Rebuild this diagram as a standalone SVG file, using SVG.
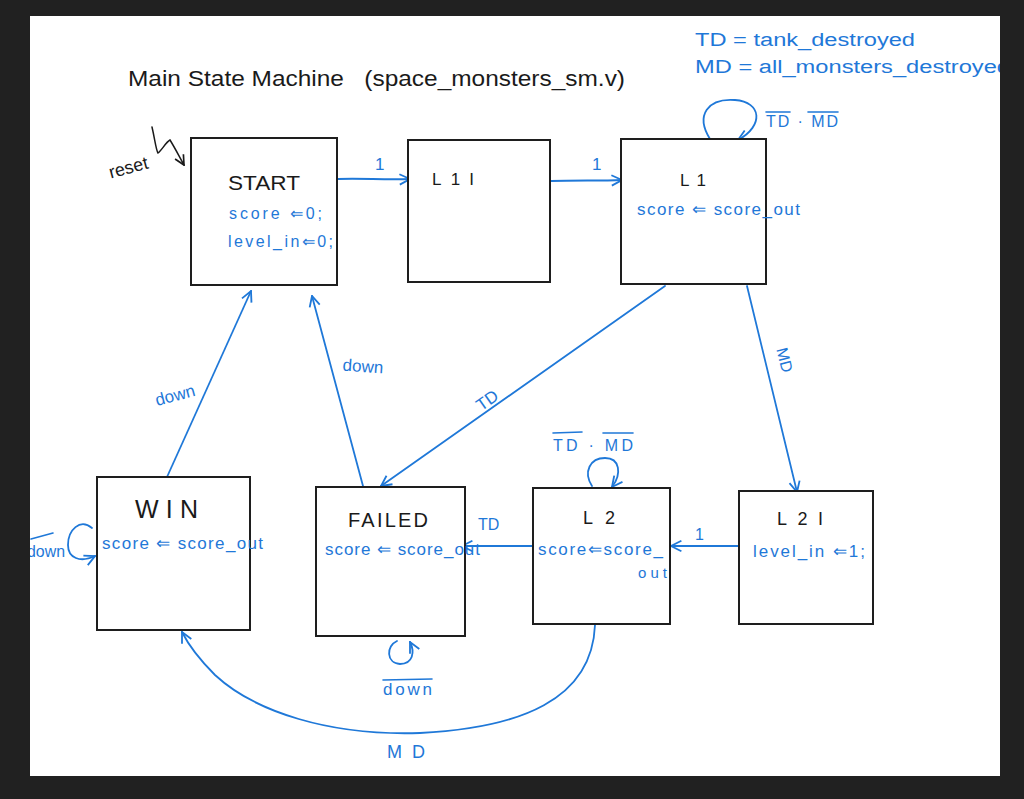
<svg xmlns="http://www.w3.org/2000/svg" width="1024" height="799" viewBox="0 0 1024 799">
<style>
.box{fill:#fff;stroke:#1e1e1e;stroke-width:2}
.k{font-family:"Liberation Sans",Arial,sans-serif;fill:#1a1a1a}
.b{font-family:"Liberation Sans",Arial,sans-serif;fill:#1f78d8}
.c{fill:none;stroke:#1f78d8;stroke-width:1.8;stroke-linecap:round}
.ck{fill:none;stroke:#1a1a1a;stroke-width:1.5;stroke-linecap:round}
.ol{stroke:#1f78d8;stroke-width:1.6;stroke-linecap:round}
</style>
<defs>
<marker id="ah" viewBox="0 0 10 10" refX="9" refY="5" markerWidth="13" markerHeight="13" markerUnits="userSpaceOnUse" orient="auto">
<path d="M1,1 L9,5 L1,9" fill="none" stroke="#1f78d8" stroke-width="1.4"/>
</marker>
<marker id="ahk" viewBox="0 0 10 10" refX="9" refY="5" markerWidth="12" markerHeight="12" markerUnits="userSpaceOnUse" orient="auto">
<path d="M1,1 L9,5 L1,9" fill="none" stroke="#1a1a1a" stroke-width="1.4"/>
</marker>
<clipPath id="page"><rect x="30" y="16" width="970" height="760"/></clipPath>
</defs>
<rect x="0" y="0" width="1024" height="799" fill="#212121"/>
<rect x="30" y="16" width="970" height="760" fill="#fff"/>
<g clip-path="url(#page)">
<text class="k" x="128" y="86" font-size="22" textLength="497" lengthAdjust="spacingAndGlyphs" xml:space="preserve">Main State Machine   (space_monsters_sm.v)</text>
<text class="b" x="695" y="46" font-size="18" textLength="220" lengthAdjust="spacingAndGlyphs">TD = tank_destroyed</text>
<text class="b" x="695" y="73" font-size="18" textLength="315" lengthAdjust="spacingAndGlyphs">MD = all_monsters_destroyed</text>

<g id="reset">
<text class="k" x="107" y="173" font-size="18" transform="rotate(-15 130 162)">reset</text>
<path class="ck" d="M152,127 C155,140 156,150 158,153 C162,150 166,142 170,140 C175,148 180,158 184,165" marker-end="url(#ahk)"/>
</g>

<g id="connectors">
<path class="c" d="M338,179 C360,178 385,180 410,179" marker-end="url(#ah)"/>
<path class="c" d="M551,181 C575,180 600,181 622,180" marker-end="url(#ah)"/>
<path class="c" d="M710,139 C695,115 708,98 735,100 C762,102 764,126 738,140" marker-end="url(#ah)"/>
<path class="c" d="M665,286 L381,486" marker-end="url(#ah)"/>
<path class="c" d="M747,286 L797,492" marker-end="url(#ah)"/>
<path class="c" d="M167,477 L251,291" marker-end="url(#ah)"/>
<path class="c" d="M363,486 L312,296" marker-end="url(#ah)"/>
<path class="c" d="M533,546 L462,546" marker-end="url(#ah)"/>
<path class="c" d="M739,546 L671,546" marker-end="url(#ah)"/>
<path class="c" d="M592,486 C583,472 590,458 605,458 C620,458 622,474 612,487" marker-end="url(#ah)"/>
<path class="c" d="M92,528 C80,518 68,530 68,545 C68,558 80,563 95,556" marker-end="url(#ah)"/>
<path class="c" d="M397,641 C386,646 386,663 400,664 C413,664 415,652 410,642" marker-end="url(#ah)"/>
<path class="c" d="M595,625 C592,700 520,728 420,733 C330,736 255,712 215,675 C200,660 190,648 182,632" marker-end="url(#ah)"/>

<text class="b" x="375" y="170" font-size="17">1</text>
<text class="b" x="592" y="170" font-size="17">1</text>
<text class="b" x="766" y="127" font-size="16" textLength="72" lengthAdjust="spacing">TD · MD</text>
<line class="ol" x1="766" y1="112" x2="790" y2="112"/>
<line class="ol" x1="808" y1="112" x2="838" y2="112"/>
<text class="b" x="487" y="406" font-size="17" text-anchor="middle" transform="rotate(-35 487 400)">TD</text>
<text class="b" x="785" y="366" font-size="16" text-anchor="middle" transform="rotate(76 785 360)">MD</text>
<text class="b" x="175" y="401" font-size="17" text-anchor="middle" transform="rotate(-15 175 395)">down</text>
<text class="b" x="363" y="372" font-size="17" text-anchor="middle" transform="rotate(4 363 366)">down</text>
<text class="b" x="553" y="451" font-size="16" textLength="80" lengthAdjust="spacing">TD · MD</text>
<line class="ol" x1="553" y1="433" x2="582" y2="432"/>
<line class="ol" x1="603" y1="433" x2="633" y2="433"/>
<text class="b" x="478" y="530" font-size="16">TD</text>
<text class="b" x="695" y="540" font-size="16">1</text>
<text class="b" x="27" y="557" font-size="16" textLength="38" lengthAdjust="spacingAndGlyphs">down</text>
<line class="ol" x1="31" y1="539" x2="53" y2="533"/>
<text class="b" x="383" y="695" font-size="17" textLength="49" lengthAdjust="spacing">down</text>
<line class="ol" x1="383" y1="680" x2="432" y2="679"/>
<text class="b" x="387" y="758" font-size="18" textLength="38" lengthAdjust="spacing">MD</text>
</g>

<g id="start">
<rect class="box" x="191" y="138" width="146" height="147"/>
<text class="k" x="228" y="190" font-size="20" textLength="72" lengthAdjust="spacingAndGlyphs">START</text>
<text class="b" x="229" y="219" font-size="16" textLength="93" lengthAdjust="spacing">score ⇐0;</text>
<text class="b" x="228" y="247" font-size="16" textLength="105" lengthAdjust="spacing">level_in⇐0;</text>
</g>
<g id="l1i">
<rect class="box" x="408" y="140" width="142" height="142"/>
<text class="k" x="432" y="185" font-size="17" textLength="42" lengthAdjust="spacing">L1I</text>
</g>
<g id="l1">
<rect class="box" x="621" y="139" width="145" height="145"/>
<text class="k" x="680" y="186" font-size="17" textLength="26" lengthAdjust="spacing">L1</text>
<text class="b" x="637" y="215" font-size="17" textLength="163" lengthAdjust="spacing">score ⇐ score_out</text>
</g>
<g id="win">
<rect class="box" x="97" y="477" width="153" height="153"/>
<text class="k" x="135" y="518" font-size="25" textLength="63" lengthAdjust="spacing">WIN</text>
<text class="b" x="102" y="549" font-size="17" textLength="161" lengthAdjust="spacing">score ⇐ score_out</text>
</g>
<g id="failed">
<rect class="box" x="316" y="487" width="149" height="149"/>
<text class="k" x="348" y="527" font-size="20" textLength="80" lengthAdjust="spacing">FAILED</text>
<text class="b" x="325" y="555" font-size="17" textLength="155" lengthAdjust="spacing">score ⇐ score_out</text>
</g>
<g id="l2">
<rect class="box" x="533" y="488" width="137" height="136"/>
<text class="k" x="583" y="524" font-size="18" textLength="32" lengthAdjust="spacing">L2</text>
<text class="b" x="538" y="555" font-size="17" textLength="125" lengthAdjust="spacing">score⇐score_</text>
<text class="b" x="638" y="578" font-size="15" textLength="29" lengthAdjust="spacing">out</text>
</g>
<g id="l2i">
<rect class="box" x="739" y="491" width="134" height="133"/>
<text class="k" x="777" y="525" font-size="18" textLength="46" lengthAdjust="spacing">L2I</text>
<text class="b" x="753" y="557" font-size="17" textLength="112" lengthAdjust="spacing">level_in ⇐1;</text>
</g>
</g>
</svg>
